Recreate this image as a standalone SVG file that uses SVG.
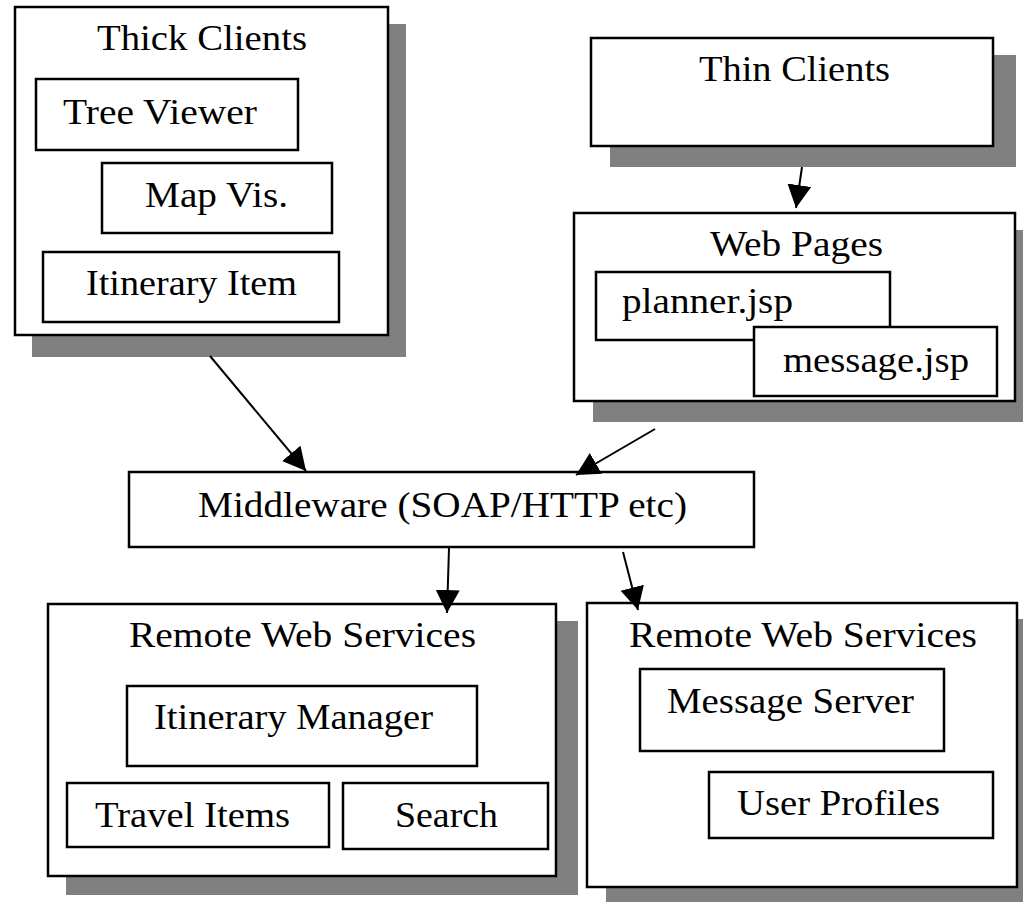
<svg xmlns="http://www.w3.org/2000/svg" width="1023" height="902" viewBox="0 0 1023 902">
  <style>
    .shadow { fill: #808080; stroke: none; }
    .box { fill: #ffffff; stroke: #000000; stroke-width: 2.5; }
    .label { font-family: "Liberation Serif", "Times New Roman", serif; font-size: 36px; fill: #000000; }
    .edge { stroke: #000000; stroke-width: 2; fill: none; marker-end: url(#arrow); }
  </style>
  <defs>
    <marker id="arrow" markerUnits="userSpaceOnUse" markerWidth="26" markerHeight="26" refX="23" refY="12" orient="auto">
      <path d="M0,0 L23,12 L0,24 Z" fill="#000000"/>
    </marker>
  </defs>
  <rect width="1023" height="902" fill="#ffffff"/>

  <!-- Thick clients container -->
  <g id="thick-clients">
    <rect class="shadow" x="32" y="24" width="374" height="333"/>
    <rect class="box" x="15" y="7" width="373" height="328"/>
    <text class="label" x="97" y="50" textLength="210" lengthAdjust="spacingAndGlyphs">Thick Clients</text>
  </g>
  <g id="tree-viewer">
    <rect class="box" x="36" y="79" width="262" height="71"/>
    <text class="label" x="63" y="124" textLength="194" lengthAdjust="spacingAndGlyphs">Tree Viewer</text>
  </g>
  <g id="map-vis">
    <rect class="box" x="102" y="163" width="230" height="70"/>
    <text class="label" x="145" y="207" textLength="143" lengthAdjust="spacingAndGlyphs">Map Vis.</text>
  </g>
  <g id="itinerary-item">
    <rect class="box" x="43" y="252" width="296" height="70"/>
    <text class="label" x="86" y="295" textLength="211" lengthAdjust="spacingAndGlyphs">Itinerary Item</text>
  </g>

  <!-- Thin clients -->
  <g id="thin-clients">
    <rect class="shadow" x="610" y="55" width="406" height="112"/>
    <rect class="box" x="591" y="38" width="402" height="108"/>
    <text class="label" x="699" y="81" textLength="191" lengthAdjust="spacingAndGlyphs">Thin Clients</text>
  </g>

  <!-- Web pages container -->
  <g id="web-pages">
    <rect class="shadow" x="593" y="230" width="440" height="192"/>
    <rect class="box" x="574" y="213" width="441" height="188"/>
    <text class="label" x="710" y="256" textLength="173" lengthAdjust="spacingAndGlyphs">Web Pages</text>
  </g>
  <g id="planner-jsp">
    <rect class="box" x="596" y="272" width="294" height="68"/>
    <text class="label" x="622" y="313" textLength="171" lengthAdjust="spacingAndGlyphs">planner.jsp</text>
  </g>
  <g id="message-jsp">
    <rect class="box" x="754" y="327" width="243" height="69"/>
    <text class="label" x="783" y="372" textLength="186" lengthAdjust="spacingAndGlyphs">message.jsp</text>
  </g>

  <!-- Middleware -->
  <g id="middleware">
    <rect class="box" x="129" y="472" width="625" height="75"/>
    <text class="label" x="198" y="517" textLength="489" lengthAdjust="spacingAndGlyphs">Middleware (SOAP/HTTP etc)</text>
  </g>

  <!-- Remote web services: itinerary side -->
  <g id="remote-services-left">
    <rect class="shadow" x="66" y="621" width="512" height="274"/>
    <rect class="box" x="48" y="604" width="508" height="272"/>
    <text class="label" x="129" y="647" textLength="347" lengthAdjust="spacingAndGlyphs">Remote Web Services</text>
  </g>
  <g id="itinerary-manager">
    <rect class="box" x="127" y="686" width="350" height="80"/>
    <text class="label" x="154" y="729" textLength="279" lengthAdjust="spacingAndGlyphs">Itinerary Manager</text>
  </g>
  <g id="travel-items">
    <rect class="box" x="67" y="783" width="262" height="64"/>
    <text class="label" x="95" y="827" textLength="195" lengthAdjust="spacingAndGlyphs">Travel Items</text>
  </g>
  <g id="search">
    <rect class="box" x="343" y="783" width="205" height="66"/>
    <text class="label" x="395" y="827" textLength="103" lengthAdjust="spacingAndGlyphs">Search</text>
  </g>

  <!-- Remote web services: messaging side -->
  <g id="remote-services-right">
    <rect class="shadow" x="606" y="619" width="430" height="290"/>
    <rect class="box" x="587" y="603" width="430" height="284"/>
    <text class="label" x="629" y="647" textLength="348" lengthAdjust="spacingAndGlyphs">Remote Web Services</text>
  </g>
  <g id="message-server">
    <rect class="box" x="640" y="669" width="304" height="82"/>
    <text class="label" x="667" y="713" textLength="247" lengthAdjust="spacingAndGlyphs">Message Server</text>
  </g>
  <g id="user-profiles">
    <rect class="box" x="709" y="772" width="284" height="66"/>
    <text class="label" x="737" y="815" textLength="203" lengthAdjust="spacingAndGlyphs">User Profiles</text>
  </g>

  <!-- Connectors -->
  <g id="connectors">
    <line class="edge" x1="210" y1="356" x2="306" y2="471"/>
    <line class="edge" x1="802" y1="167" x2="796" y2="208"/>
    <line class="edge" x1="655" y1="429" x2="576" y2="475"/>
    <line class="edge" x1="449" y1="548" x2="447" y2="613"/>
    <line class="edge" x1="623" y1="552" x2="638" y2="610"/>
  </g>
</svg>
